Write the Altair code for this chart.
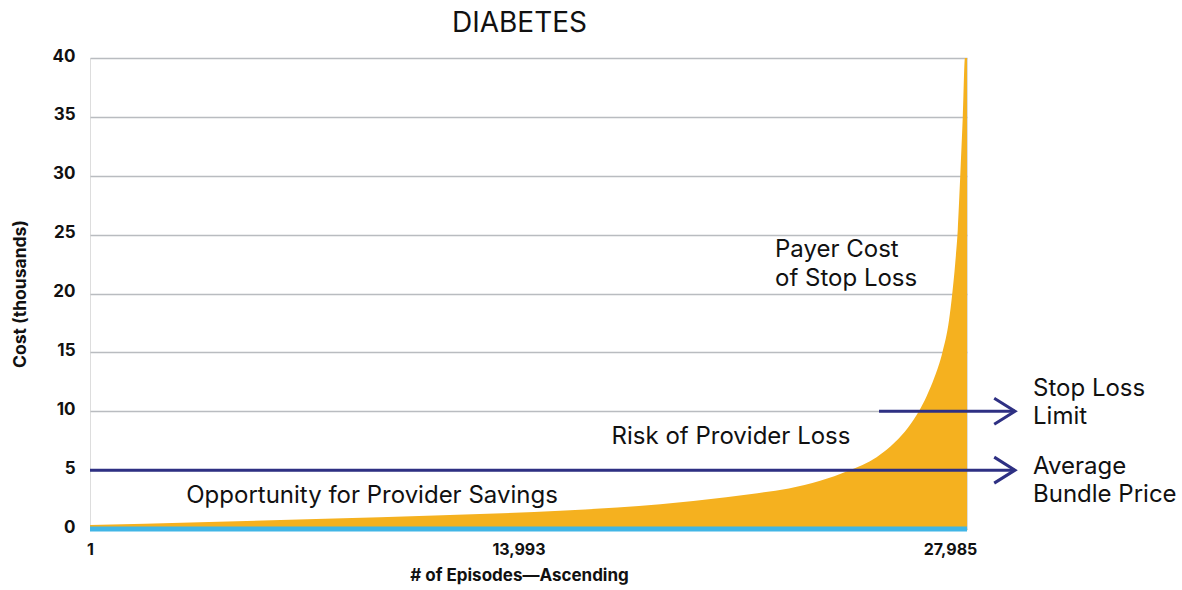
import altair as alt
import pandas as pd

# Episode cost curve (episodes sorted by cost, cost in thousands of dollars)
episodes = [1, 3500, 7500, 11000, 15000, 18200, 20300, 21300, 22300, 23300,
            24200, 25100, 25700, 26100, 26450, 26700, 26950, 27200, 27410,
            27515, 27610, 27690, 27770, 27850, 27920, 27985]
cost = [0.35, 0.58, 0.87, 1.15, 1.55, 2.1, 2.7, 3.04, 3.45, 4.1,
        4.95, 6.1, 7.4, 8.6, 10.0, 11.3, 12.9, 15.0, 17.7,
        20.0, 22.6, 25.4, 30.0, 35.0, 40.0, 40.0]

tick_episodes = [1, 13993, 27985]
cost_ticks = [0, 5, 10, 15, 20, 25, 30, 35, 40]

# Reference levels drawn as arrows
arrow_labels = ["Average Bundle Price", "Stop Loss Limit"]
arrow_levels = [5, 10]
arrow_starts = [1, 25178]
arrow_tips = [29517, 29517]

# Text annotations: text, episode position, cost position (baseline)
note_text = ["Payer Cost", "of Stop Loss", "Stop Loss", "Limit", "Average", "Bundle Price"]
note_x = [21859, 21859, 30092, 30092, 30092, 30092]
note_y = [23.13, 20.67, 11.26, 8.88, 4.63, 2.26]

center_text = ["Risk of Provider Loss", "Opportunity for Provider Savings"]
center_x = [20455, 9000]
center_y = [7.22, 2.22]

ORANGE = "#F5B11F"
BLUE = "#41B6E6"
NAVY = "#2E3083"
INK = "#111111"
FONT = "Inter"

curve = pd.DataFrame({"episode": episodes, "cost": cost})
arrows = pd.DataFrame({"label": arrow_labels, "level": arrow_levels,
                       "start": arrow_starts, "tip": arrow_tips})
notes = pd.DataFrame({"text": note_text, "x": note_x, "y": note_y})
centers = pd.DataFrame({"text": center_text, "x": center_x, "y": center_y})

x_scale = alt.Scale(domain=[1, 27985], nice=False, zero=False)
y_scale = alt.Scale(domain=[0, 40], nice=False)

x_axis = alt.Axis(
    values=tick_episodes, format=",d", grid=False, domain=False, ticks=False,
    labelFont=FONT, labelFontWeight="bold", labelFontSize=16, labelColor=INK,
    labelPadding=12, labelFlush=False,
    labelOffset={"condition": [{"test": "datum.value > 20000", "value": -17},
                               {"test": "datum.value > 10000", "value": -10}],
                 "value": 0},
    title="# of Episodes\u2014Ascending", titleFont=FONT, titleFontWeight="bold",
    titleFontSize=17, titleColor=INK, titlePadding=10, titleX=429,
)
y_axis = alt.Axis(
    values=cost_ticks, grid=True, gridColor="#B9BCC0", gridWidth=1.5,
    domain=False, ticks=False,
    labelFont=FONT, labelFontWeight="bold", labelFontSize=17, labelColor=INK,
    labelPadding=15, labelOffset=-2,
    title="Cost (thousands)", titleFont=FONT, titleFontWeight="bold",
    titleFontSize=17.5, titleColor=INK, titlePadding=23,
)

area = alt.Chart(curve).mark_area(color=ORANGE, interpolate="monotone").encode(
    x=alt.X("episode:Q", scale=x_scale, axis=x_axis),
    y=alt.Y("cost:Q", scale=y_scale, axis=y_axis),
)

baseline = alt.Chart(curve).mark_rule(color=BLUE, strokeWidth=5).encode(
    x="min(episode):Q", x2="max(episode):Q", y=alt.datum(0),
)

arrow_lines = alt.Chart(arrows).mark_rule(color=NAVY, strokeWidth=3).encode(
    x="start:Q", x2="tip:Q", y="level:Q",
)

arrow_heads = alt.Chart(arrows).mark_point(
    shape="M-1.6,-1L0,0L-1.6,1", filled=False, size=676, strokeWidth=3,
    color=NAVY, opacity=1, strokeJoin="miter",
).encode(x="tip:Q", y="level:Q")

left_notes = alt.Chart(notes).mark_text(
    align="left", baseline="alphabetic", font=FONT, fontSize=24, color=INK,
).encode(x="x:Q", y="y:Q", text="text:N")

center_notes = alt.Chart(centers).mark_text(
    align="center", baseline="alphabetic", font=FONT, fontSize=24, color=INK,
).encode(x="x:Q", y="y:Q", text="text:N")

chart = alt.layer(
    area, baseline, arrow_lines, arrow_heads, left_notes, center_notes
).properties(
    width=877, height=471,
    title=alt.TitleParams("DIABETES", font=FONT, fontSize=28, fontWeight="normal",
                          color=INK, anchor="middle", dx=-9, offset=9),
    autosize=alt.AutoSizeParams(type="none"),
    padding={"left": 90, "top": 58, "right": 215, "bottom": 61},
).configure_view(stroke=None).configure(background="white")

chart.save("out.html", embed_options={"renderer": "svg", "actions": False})
